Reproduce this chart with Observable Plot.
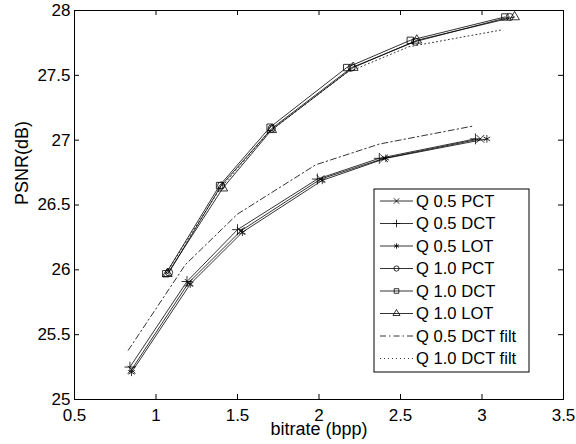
<!DOCTYPE html>
<html>
<head>
<meta charset="utf-8">
<script src="https://cdn.jsdelivr.net/npm/d3@7"></script>
<script src="https://cdn.jsdelivr.net/npm/@observablehq/plot@0.6"></script>
<style>
  html, body { margin: 0; padding: 0; background: #fff; }
  #chart { width: 576px; height: 444px; }
</style>
</head>
<body>
<div id="chart"></div>
<script>
// ---- data ----
const seriesNames = ["Q 0.5 PCT", "Q 0.5 DCT", "Q 0.5 LOT", "Q 1.0 PCT", "Q 1.0 DCT", "Q 1.0 LOT", "Q 0.5 DCT filt", "Q 1.0 DCT filt"];

const q05PctX = [0.85, 1.20, 1.52, 2.01, 2.40, 2.99];
const q05PctY = [25.23, 25.90, 26.30, 26.70, 26.86, 27.01];
const q05DctX = [0.84, 1.19, 1.50, 1.99, 2.37, 2.96];
const q05DctY = [25.25, 25.91, 26.31, 26.70, 26.86, 27.01];
const q05LotX = [0.85, 1.21, 1.53, 2.02, 2.41, 3.03];
const q05LotY = [25.21, 25.89, 26.29, 26.69, 26.86, 27.01];

const q10PctX = [1.08, 1.40, 1.71, 2.20, 2.59, 3.17];
const q10PctY = [25.98, 26.65, 27.09, 27.56, 27.76, 27.95];
const q10DctX = [1.06, 1.39, 1.70, 2.17, 2.56, 3.14];
const q10DctY = [25.97, 26.65, 27.10, 27.56, 27.77, 27.95];
const q10LotX = [1.07, 1.41, 1.71, 2.21, 2.60, 3.20];
const q10LotY = [25.97, 26.63, 27.08, 27.56, 27.77, 27.95];

const q05FiltX = [0.83, 1.18, 1.50, 1.98, 2.37, 2.95];
const q05FiltY = [25.38, 26.04, 26.43, 26.81, 26.97, 27.11];
const q10FiltX = [1.05, 1.39, 1.69, 2.17, 2.55, 3.12];
const q10FiltY = [25.95, 26.62, 27.06, 27.52, 27.72, 27.85];

const xTicks = [0.5, 1, 1.5, 2, 2.5, 3, 3.5];
const yTicks = [25, 25.5, 26, 26.5, 27, 27.5, 28];

// ---- styling per series ----
const styles = [
  {symbol: "times", dash: null},
  {symbol: "plus", dash: null},
  {symbol: "asterisk", dash: null},
  {symbol: "circle", dash: null},
  {symbol: "square", dash: null},
  {symbol: "triangle", dash: null},
  {symbol: null, dash: "6,3,1.5,3"},
  {symbol: null, dash: "1,3"}
];
const xs = [q05PctX, q05DctX, q05LotX, q10PctX, q10DctX, q10LotX, q05FiltX, q10FiltX];
const ys = [q05PctY, q05DctY, q05LotY, q10PctY, q10DctY, q10LotY, q05FiltY, q10FiltY];

const W = 576, H = 444;
const mL = 74, mR = 13, mT = 10, mB = 45;
const innerW = W - mL - mR, innerH = H - mT - mB;
const FONT = "Liberation Sans, Arial, Helvetica, sans-serif";
const FS = 17;      // tick labels
const FS_LEG = 16.6; // legend
const FS_TITLE = 18; // axis titles

const marks = [];
seriesNames.forEach((name, i) => {
  const rows = xs[i].map((x, j) => ({x, y: ys[i][j]}));
  marks.push(Plot.line(rows, {x: "x", y: "y", stroke: "black", strokeWidth: 0.8,
    strokeDasharray: styles[i].dash || undefined}));
  if (styles[i].symbol) {
    marks.push(Plot.dot(rows, {x: "x", y: "y", symbol: () => styles[i].symbol, r: 3.6,
      stroke: "black", fill: "none", strokeWidth: 0.8}));
  }
});

const chart = Plot.plot({
  width: W, height: H,
  marginLeft: mL, marginRight: mR, marginTop: mT, marginBottom: mB,
  style: {fontFamily: FONT, fontSize: FS + "px", background: "white", color: "black"},
  x: {domain: [0.5, 3.5]},
  y: {domain: [25, 28]},
  symbol: {type: "identity"},
  marks: [
    Plot.axisX({ticks: xTicks, tickSize: 0, tickPadding: 9, tickFormat: d => String(d), label: null, fontSize: FS}),
    Plot.axisY({ticks: yTicks, tickSize: 0, tickPadding: 4, tickFormat: d => String(d), label: null, fontSize: FS}),
    Plot.tickX(xTicks, {x: d => d, insetTop: innerH - 5, stroke: "black"}),
    Plot.tickX(xTicks, {x: d => d, insetBottom: innerH - 5, stroke: "black"}),
    Plot.tickY(yTicks, {y: d => d, insetRight: innerW - 5, stroke: "black"}),
    Plot.tickY(yTicks, {y: d => d, insetLeft: innerW - 5, stroke: "black"}),
    ...marks,
    Plot.frame({stroke: "black", strokeWidth: 1}),
    Plot.text(["bitrate (bpp)"], {frameAnchor: "bottom", dy: 35.5, fontSize: FS_TITLE, fill: "black"}),
    Plot.text(["PSNR(dB)"], {frameAnchor: "left", dx: -52, rotate: -90, fontSize: FS_TITLE, fill: "black"})
  ]
});
document.getElementById("chart").appendChild(chart);

// ---- legend (inside the axes, like the reference) ----
const svg = d3.select(chart);
const lg = svg.append("g").attr("font-family", FONT).attr("font-size", FS_LEG).attr("text-anchor", "start");
const boxX = 374, boxY = 189, boxW = 155, boxH = 183;
lg.append("rect").attr("x", boxX).attr("y", boxY).attr("width", boxW).attr("height", boxH)
  .attr("fill", "white").attr("stroke", "black").attr("stroke-width", 1);
const symMap = {times: d3.symbolTimes, plus: d3.symbolPlus, asterisk: d3.symbolAsterisk,
  circle: d3.symbolCircle, square: d3.symbolSquare, triangle: d3.symbolTriangle};
seriesNames.forEach((name, i) => {
  const cy = boxY + 12 + i * 22.5;
  lg.append("line").attr("x1", boxX + 6).attr("x2", boxX + 39).attr("y1", cy).attr("y2", cy)
    .attr("stroke", "black").attr("stroke-width", 0.8)
    .attr("stroke-dasharray", styles[i].dash);
  if (styles[i].symbol) {
    lg.append("path").attr("transform", `translate(${boxX + 22.5},${cy})`)
      .attr("d", d3.symbol(symMap[styles[i].symbol], 2.6 * 2.6 * Math.PI)())
      .attr("fill", "none").attr("stroke", "black").attr("stroke-width", 0.8);
  }
  lg.append("text").attr("x", boxX + 42).attr("y", cy).attr("dy", "0.36em")
    .attr("text-anchor", "start").attr("fill", "black").text(name);
});
</script>
</body>
</html>
